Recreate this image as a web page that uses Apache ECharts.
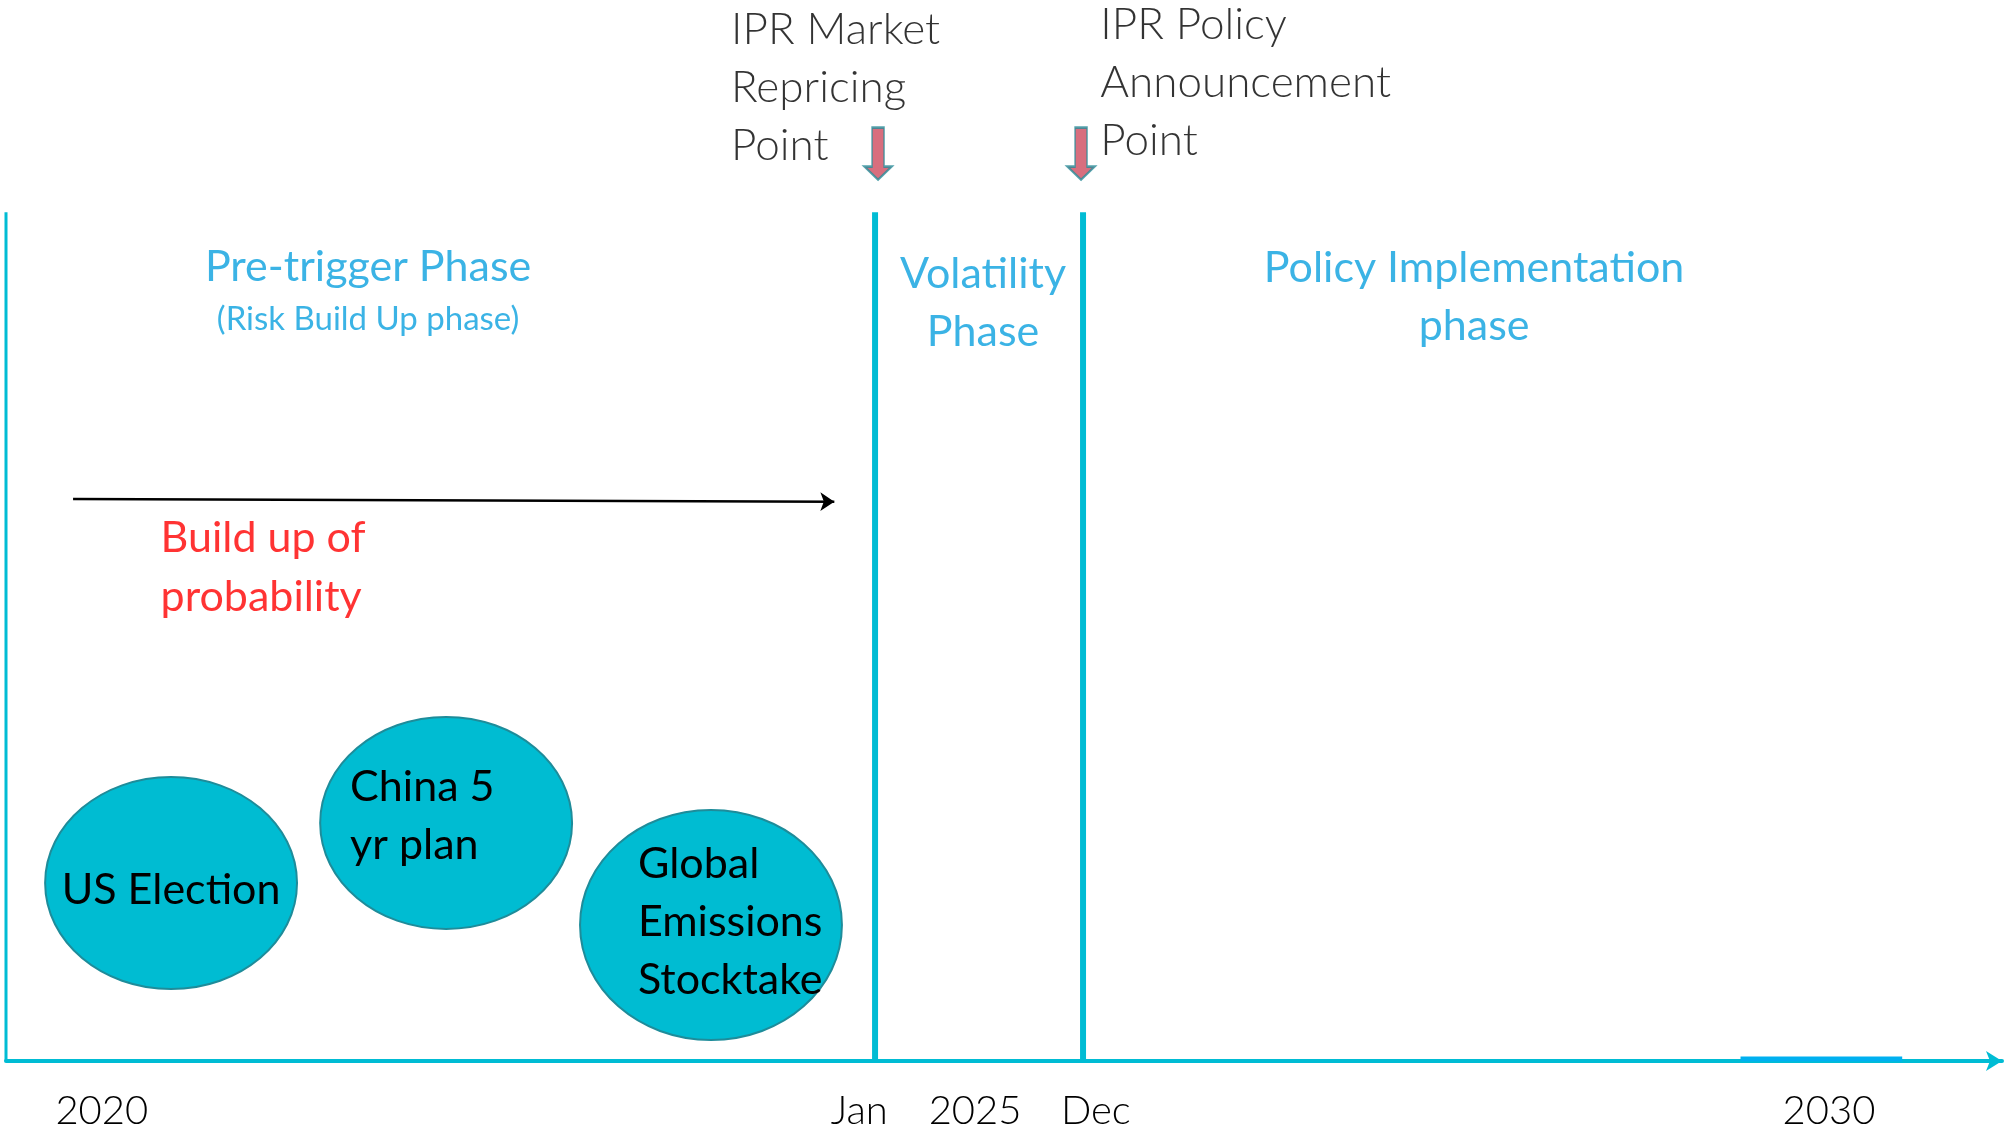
<!DOCTYPE html>
<html>
<head>
<meta charset="utf-8">
<script src="https://cdn.jsdelivr.net/npm/echarts@6/dist/echarts.min.js"></script>
<style>
  html, body { margin: 0; padding: 0; background: #fff; }
  #timeline { width: 2010px; height: 1138px; }
</style>
</head>
<body>
<div id="timeline"></div>
<script>
// timeline runs 0..100 (schematic), height 0..125
var tickValues = [4.8, 42.75, 48.55, 54.6, 91.33];
var tickLabels = ['2020', 'Jan', '2025', 'Dec', '2030'];

var boundaryX = [43.54, 53.96];          // Jan / Dec phase boundaries
var triggerNames = ['IPR Market\nRepricing\nPoint', 'IPR Policy\nAnnouncement\nPoint'];
var triggerX = [36.3, 54.8];
var triggerY = [114.6, 115.2];
var arrowX = [43.69, 53.86];
var arrowY = [106.9, 106.9];

var phaseNames = ['Pre-trigger Phase', '(Risk Build Up phase)', 'Volatility\nPhase', 'Policy Implementation\nphase'];
var phaseX = [18.14, 18.14, 48.95, 73.55];
var phaseY = [93.5, 87.4, 89.3, 90.0];

var eventNames = ['US Election', 'China 5\nyr plan', 'Global\nEmissions\nStocktake'];
var eventX = [8.27, 22.05, 35.32];
var eventY = [20.97, 28.04, 16.02];
var eventRX = [6.31, 6.31, 6.56];
var eventRY = [12.49, 12.49, 13.55];

var probStart = [3.36, 66.2];
var probEnd = [41.5, 65.9];

var CYAN = '#00BCD4';
var BLUE = '#0AA0DF';
var FONT = 'Lato, "Open Sans", sans-serif';

// text placement inside bubbles
var eventAlign = ['center', 'left', 'left'];
var eventDx = [0, -96, -73];
var eventDy = [7, -7, -3];

var chart = echarts.init(document.getElementById('timeline'));

var option = {
    animation: false,
    grid: { left: 6, right: 8, top: 0, bottom: 77, containLabel: false, outerBoundsMode: 'none' },
    xAxis: {
        type: 'value',
        min: 0,
        max: 100,
        splitLine: { show: false },
        axisTick: { show: false },
        axisLine: {
            show: true,
            symbol: ['none', 'arrow'],
            symbolSize: [15, 16],
            lineStyle: { color: CYAN, width: 4 }
        },
        axisLabel: {
            customValues: tickValues,
            formatter: function (v) { return tickLabels[tickValues.indexOf(v)]; },
            margin: 30,
            fontFamily: FONT,
            fontWeight: 300,
            fontSize: 40,
            lineHeight: 40,
            color: '#000'
        }
    },
    yAxis: { type: 'value', min: 0, max: 125, show: false },
    series: [
        {
            // left edge of the pre-trigger phase
            type: 'line',
            clip: false,
            symbol: 'none',
            lineStyle: { color: CYAN, width: 3 },
            data: [[0, 0], [0, 100]]
        },
        {
            type: 'line',
            clip: false,
            symbol: 'none',
            lineStyle: { color: CYAN, width: 6 },
            data: [[boundaryX[0], 0], [boundaryX[0], 100]]
        },
        {
            type: 'line',
            clip: false,
            symbol: 'none',
            lineStyle: { color: CYAN, width: 6 },
            data: [[boundaryX[1], 0], [boundaryX[1], 100]]
        },
        {
            type: 'line',
            clip: false,
            symbol: 'none',
            lineStyle: { color: '#00B0F0', width: 5 },
            data: [[86.9, 0.25], [95.0, 0.25]]
        },
        {
            type: 'lines',
            coordinateSystem: 'cartesian2d',
            symbol: ['none', 'arrow'],
            symbolSize: 14,
            lineStyle: { color: '#000', width: 2.5, opacity: 1 },
            data: [{ coords: [probStart, probEnd] }]
        },
        {
            type: 'custom',
            clip: false,
            data: eventNames.map(function (n, i) {
                return [eventX[i], eventY[i], eventRX[i], eventRY[i], i];
            }),
            encode: { x: 0, y: 1 },
            renderItem: function (params, api) {
                var i = api.value(4);
                var c = api.coord([api.value(0), api.value(1)]);
                var s = api.size([api.value(2), api.value(3)]);
                return {
                    type: 'group',
                    children: [{
                        type: 'ellipse',
                        shape: { cx: c[0], cy: c[1], rx: s[0], ry: s[1] },
                        style: { fill: '#00BCD2', stroke: '#1E8C9A', lineWidth: 2 }
                    }, {
                        type: 'text',
                        x: c[0] + eventDx[i],
                        y: c[1] + eventDy[i],
                        style: {
                            text: eventNames[i],
                            fill: '#000',
                            fontFamily: FONT,
                            fontSize: 43,
                            lineHeight: 58,
                            align: eventAlign[i],
                            verticalAlign: 'middle'
                        }
                    }]
                };
            }
        },
        {
            // phase titles
            type: 'scatter',
            symbolSize: 1,
            itemStyle: { color: 'transparent' },
            label: {
                show: true,
                position: 'inside',
                formatter: '{b}',
                fontFamily: FONT,
                fontSize: 43,
                lineHeight: 58,
                color: BLUE
            },
            data: phaseNames.map(function (n, i) {
                var d = { name: n, value: [phaseX[i], phaseY[i]] };
                if (i === 1) d.label = { fontSize: 33, lineHeight: 40 };
                return d;
            })
        },
        {
            type: 'scatter',
            symbolSize: 1,
            itemStyle: { color: 'transparent' },
            label: {
                show: true,
                position: 'right',
                distance: 0,
                align: 'left',
                formatter: '{b}',
                fontFamily: FONT,
                fontSize: 43,
                lineHeight: 59,
                color: '#FF0000'
            },
            data: [{ name: 'Build up of\nprobability', value: [7.72, 58.1] }]
        },
        {
            // trigger points above the timeline
            type: 'scatter',
            symbolSize: 1,
            clip: false,
            itemStyle: { color: 'transparent' },
            label: {
                show: true,
                position: 'right',
                distance: 0,
                align: 'left',
                formatter: '{b}',
                fontFamily: FONT,
                fontWeight: 300,
                fontSize: 44,
                lineHeight: 58,
                color: '#000'
            },
            data: triggerNames.map(function (n, i) {
                return { name: n, value: [triggerX[i], triggerY[i]] };
            })
        },
        {
            type: 'scatter',
            clip: false,
            symbol: 'path://M7.5,0 L19.5,0 L19.5,39 L27,39 L13.5,52 L0,39 L7.5,39 Z',
            symbolSize: [27, 52],
            itemStyle: { color: '#CE4A5E', borderColor: '#2A8C98', borderWidth: 2 },
            data: arrowX.map(function (x, i) { return [x, arrowY[i]]; })
        }
    ]
};

chart.setOption(option);
</script>
</body>
</html>
